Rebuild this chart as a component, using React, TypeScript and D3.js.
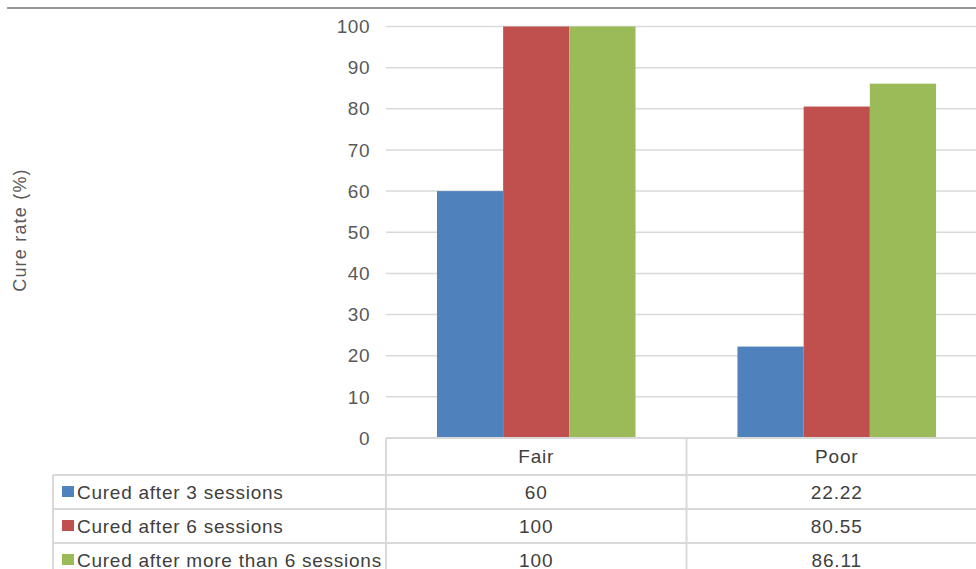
import * as d3 from "d3";
import React from "react";

const categories = ["Fair", "Poor"];
const seriesNames = [
  "Cured after 3 sessions",
  "Cured after 6 sessions",
  "Cured after more than 6 sessions",
];
const after3 = [60, 22.22];
const after6 = [100, 80.55];
const afterMore = [100, 86.11];
const valueLabels = [
  ["60", "22.22"],
  ["100", "80.55"],
  ["100", "86.11"],
];
const yTicks = [0, 10, 20, 30, 40, 50, 60, 70, 80, 90, 100];
const colors = ["#4F81BD", "#C0504D", "#9BBB59"];

export default function App() {
  const width = 976,
    height = 569;
  const left = 386,
    right = 987,
    top = 26.5,
    bottom = 438;
  const font = "'Liberation Sans', Arial, sans-serif";
  const grid = "#D9D9D9";

  const series = [after3, after6, afterMore];

  const y = d3.scaleLinear().domain([0, 100]).range([bottom, top]);
  const x0 = d3.scaleBand().domain(categories).range([left, right]).paddingInner(0).paddingOuter(0);
  const x1 = d3
    .scaleBand()
    .domain(seriesNames)
    .range([0, x0.bandwidth()])
    .paddingOuter(0.77)
    .paddingInner(0);

  const tableLeft = 53;
  const rowY = [438, 475, 509, 543, 577];

  return (
    <svg
      width={width}
      height={height}
      style={{ position: "absolute", left: 0, top: 0, background: "#fff" }}
    >
      <line x1={7} x2={width} y1={8} y2={8} stroke="#737373" strokeWidth={1.5} />

      {/* gridlines */}
      {yTicks.map((t) =>
        t === 0 ? null : (
          <line key={t} x1={left} x2={width} y1={y(t)} y2={y(t)} stroke={grid} strokeWidth={1.5} />
        )
      )}
      {yTicks.map((t) => (
        <text
          key={"l" + t}
          x={370}
          y={y(t)}
          dy="0.35em"
          textAnchor="end"
          fontFamily={font}
          fontSize={19}
          letterSpacing={0.5}
          fill="#595959"
        >
          {t}
        </text>
      ))}

      <text
        transform={`translate(26,230) rotate(-90)`}
        textAnchor="middle"
        fontFamily={font}
        fontSize={18}
        letterSpacing={1.2}
        fill="#595959"
      >
        Cure rate (%)
      </text>

      {/* bars */}
      {categories.map((c, ci) => (
        <g key={c} transform={`translate(${x0(c)},0)`}>
          {series.map((s, si) => (
            <rect
              key={si}
              x={x1(seriesNames[si])}
              y={y(s[ci])}
              width={x1.bandwidth()}
              height={bottom - y(s[ci])}
              fill={colors[si]}
            />
          ))}
        </g>
      ))}

      {/* data table */}
      <g stroke={grid} strokeWidth={2}>
        <line x1={left} x2={width} y1={rowY[0]} y2={rowY[0]} />
        {rowY.slice(1).map((ry, i) => (
          <line key={i} x1={tableLeft} x2={width} y1={ry} y2={ry} />
        ))}
        <line x1={tableLeft} x2={tableLeft} y1={rowY[1]} y2={rowY[4]} />
        {categories.map((c) => (
          <line key={c} x1={x0(c)} x2={x0(c)} y1={rowY[0]} y2={rowY[4]} />
        ))}
      </g>
      {categories.map((c) => (
        <text
          key={"c" + c}
          x={(x0(c) as number) + x0.bandwidth() / 2}
          y={(rowY[0] + rowY[1]) / 2}
          dy="0.35em"
          textAnchor="middle"
          fontFamily={font}
          fontSize={19}
          letterSpacing={0.8}
          fill="#404040"
        >
          {c}
        </text>
      ))}
      {seriesNames.map((name, si) => {
        const cy = (rowY[si + 1] + rowY[si + 2]) / 2;
        return (
          <g key={name}>
            <rect x={62} y={cy - 6} width={12} height={11} fill={colors[si]} />
            <text
              x={77}
              y={cy}
              dy="0.35em"
              fontFamily={font}
              fontSize={19}
              letterSpacing={0.75}
              fill="#404040"
            >
              {name}
            </text>
            {categories.map((c, ci) => (
              <text
                key={c}
                x={(x0(c) as number) + x0.bandwidth() / 2}
                y={cy}
                dy="0.35em"
                textAnchor="middle"
                fontFamily={font}
                fontSize={19}
                letterSpacing={0.9}
                fill="#404040"
              >
                {valueLabels[si][ci]}
              </text>
            ))}
          </g>
        );
      })}
    </svg>
  );
}
